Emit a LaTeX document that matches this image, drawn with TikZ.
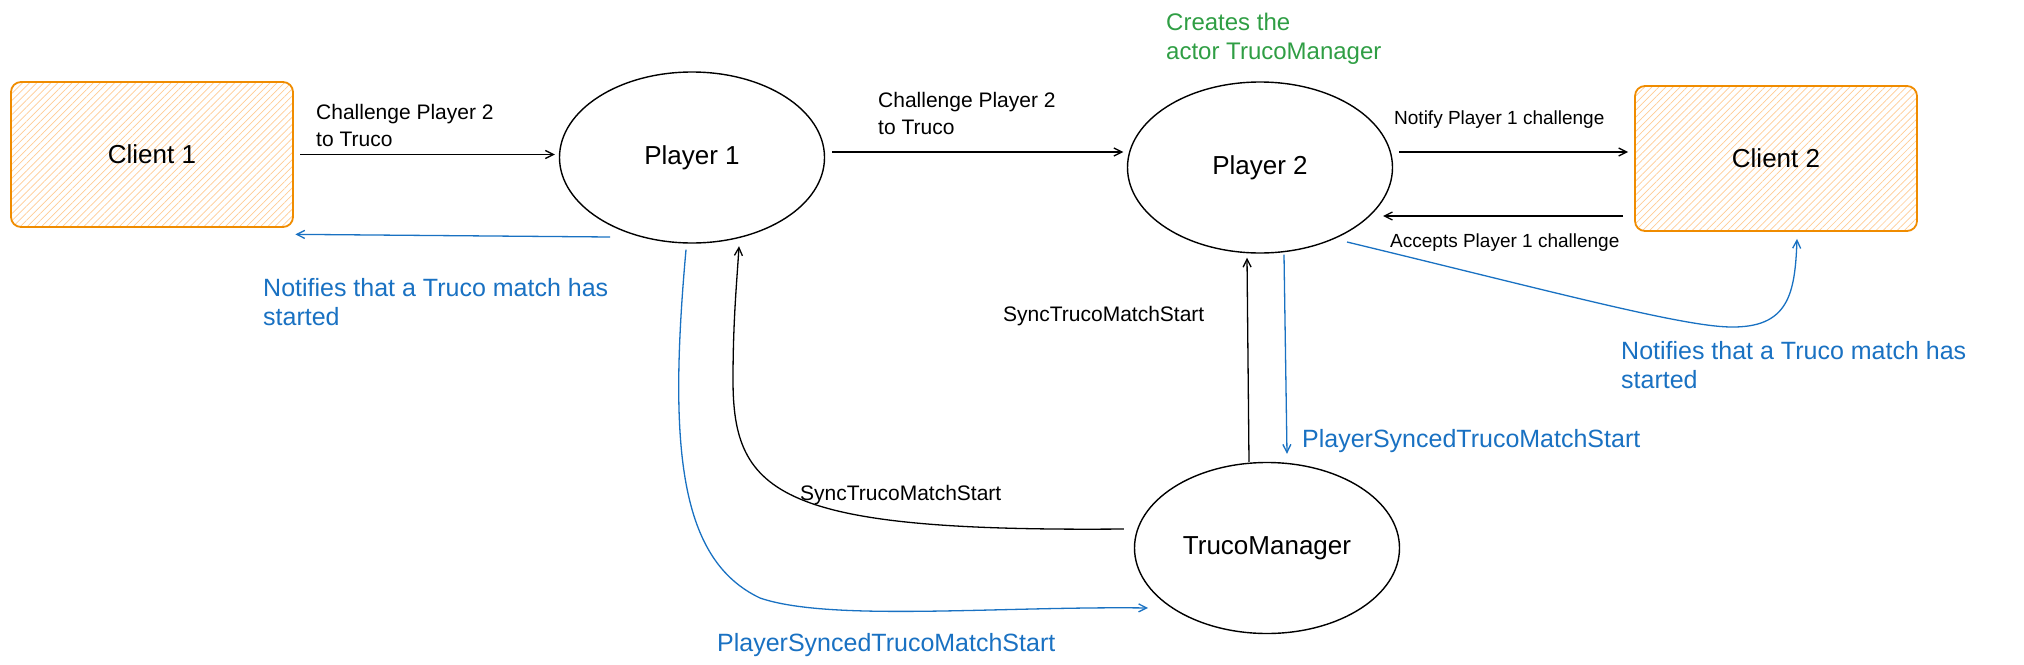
\documentclass[tikz,border=0pt]{standalone}
\usepackage{fontspec}
\setmainfont{Liberation Sans}
\usetikzlibrary{shapes.geometric,arrows.meta,patterns.meta}
\definecolor{actorblue}{HTML}{1971C2}
\definecolor{actorgreen}{HTML}{2F9E44}
\definecolor{clientorange}{HTML}{F08C00}
\definecolor{hatchorange}{HTML}{FFCB94}

\begin{document}
\begin{tikzpicture}[x=1pt,y=1pt,
  actor/.style={draw=black,line width=1.4pt,ellipse,minimum width=265pt,minimum height=171pt,font=\fontsize{26}{30}\selectfont},
  client/.style={draw=clientorange,line width=1.8pt,rounded corners=10pt,minimum width=282pt,minimum height=145pt,
    pattern={Lines[angle=45,distance=5pt,line width=0.7pt]},pattern color=hatchorange,font=\fontsize{26}{30}\selectfont},
  msg/.style={line width=1.3pt,-{Straight Barb[length=8pt,width=8pt]}},
  note/.style={msg,actorblue},
  lbl/.style={anchor=west,align=left,font=\fontsize{21}{27}\selectfont},
  smalllbl/.style={lbl,font=\fontsize{19}{23}\selectfont},
  bluelbl/.style={lbl,text=actorblue,font=\fontsize{25}{29}\selectfont}]
\tikzstyle{every node}+=[inner sep=0pt]
\useasboundingbox (0,0) rectangle (2024,-664);
\node[client] (client1) at (152,-154.5) {Client 1};
\node[client] (client2) at (1776,-158.5) {Client 2};
\node[actor] (player1) at (692,-157.5) {Player 1};
\node[actor] (player2) at (1260,-167.5) {Player 2};
\node[actor] (manager) at (1267,-548) {TrucoManager};
% challenge and answers
\draw[msg] ([xshift=7]client1.east) -- ([xshift=-4]client1.east -| player1.west);
\draw[note] ([shift={(-82,-79.5)}]player1.center) -- ([shift={(2,-7)}]client1.south east);
\draw[msg] ([shift={(7,5.5)}]player1.east) -- ([shift={(-3.5,15.5)}]player2.west);
\draw[msg] ([shift={(6,15.5)}]player2.east) -- ([shift={(-6,6.5)}]client2.west);
\draw[msg] ([shift={(-11,-57.5)}]client2.west) -- ([shift={(123,-48.5)}]player2.center);
\draw[note] ([shift={(87,-74.5)}]player2.center) .. controls (1550,-291) and (1680,-326) .. (1730,-327)
  .. controls (1788,-328) and (1795,-295) .. ([shift={(21,-7)}]client2.south);
% sync with the manager
\draw[msg] ([xshift=-18]manager.north) -- ([shift={(-13,-4)}]player2.south);
\draw[note] ([shift={(24,-1)}]player2.south) -- ([shift={(20,8)}]manager.north);
\draw[msg] ([shift={(-10,19)}]manager.west) .. controls (780,-532) and (733,-495) .. (733,-380)
  .. controls (733,-320) and (737,-280) .. ([shift={(47,-2.5)}]player1.south);
\draw[note] ([shift={(-6,-6)}]player1.south) .. controls (668,-450) and (680,-560) .. (760,-598)
  .. controls (830,-622) and (1000,-606) .. ([shift={(-119,-60)}]manager.center);
% labels
\node[lbl] (askleft) at (316,-125) {Challenge Player 2\\to Truco};
\node[lbl] (askright) at (878,-113.5) {Challenge Player 2\\to Truco};
\node[smalllbl] (notify) at (1394,-120) {Notify Player 1 challenge};
\node[smalllbl] (accepts) at (1390,-243) {Accepts Player 1 challenge};
\node[bluelbl] (startedleft) at (263,-302.5) {Notifies that a Truco match has\\started};
\node[bluelbl] (startedright) at (1621,-365) {Notifies that a Truco match has\\started};
\node[lbl] (syncright) at (1003,-316) {SyncTrucoMatchStart};
\node[lbl] (syncleft) at (800,-495) {SyncTrucoMatchStart};
\node[bluelbl] (syncedright) at (1302,-441) {PlayerSyncedTrucoMatchStart};
\node[bluelbl] (syncedleft) at (717,-645) {PlayerSyncedTrucoMatchStart};
\node[lbl,text=actorgreen,font=\fontsize{24}{29}\selectfont] (creates) at (1166,-38.5) {Creates the\\actor TrucoManager};
\end{tikzpicture}
\end{document}
